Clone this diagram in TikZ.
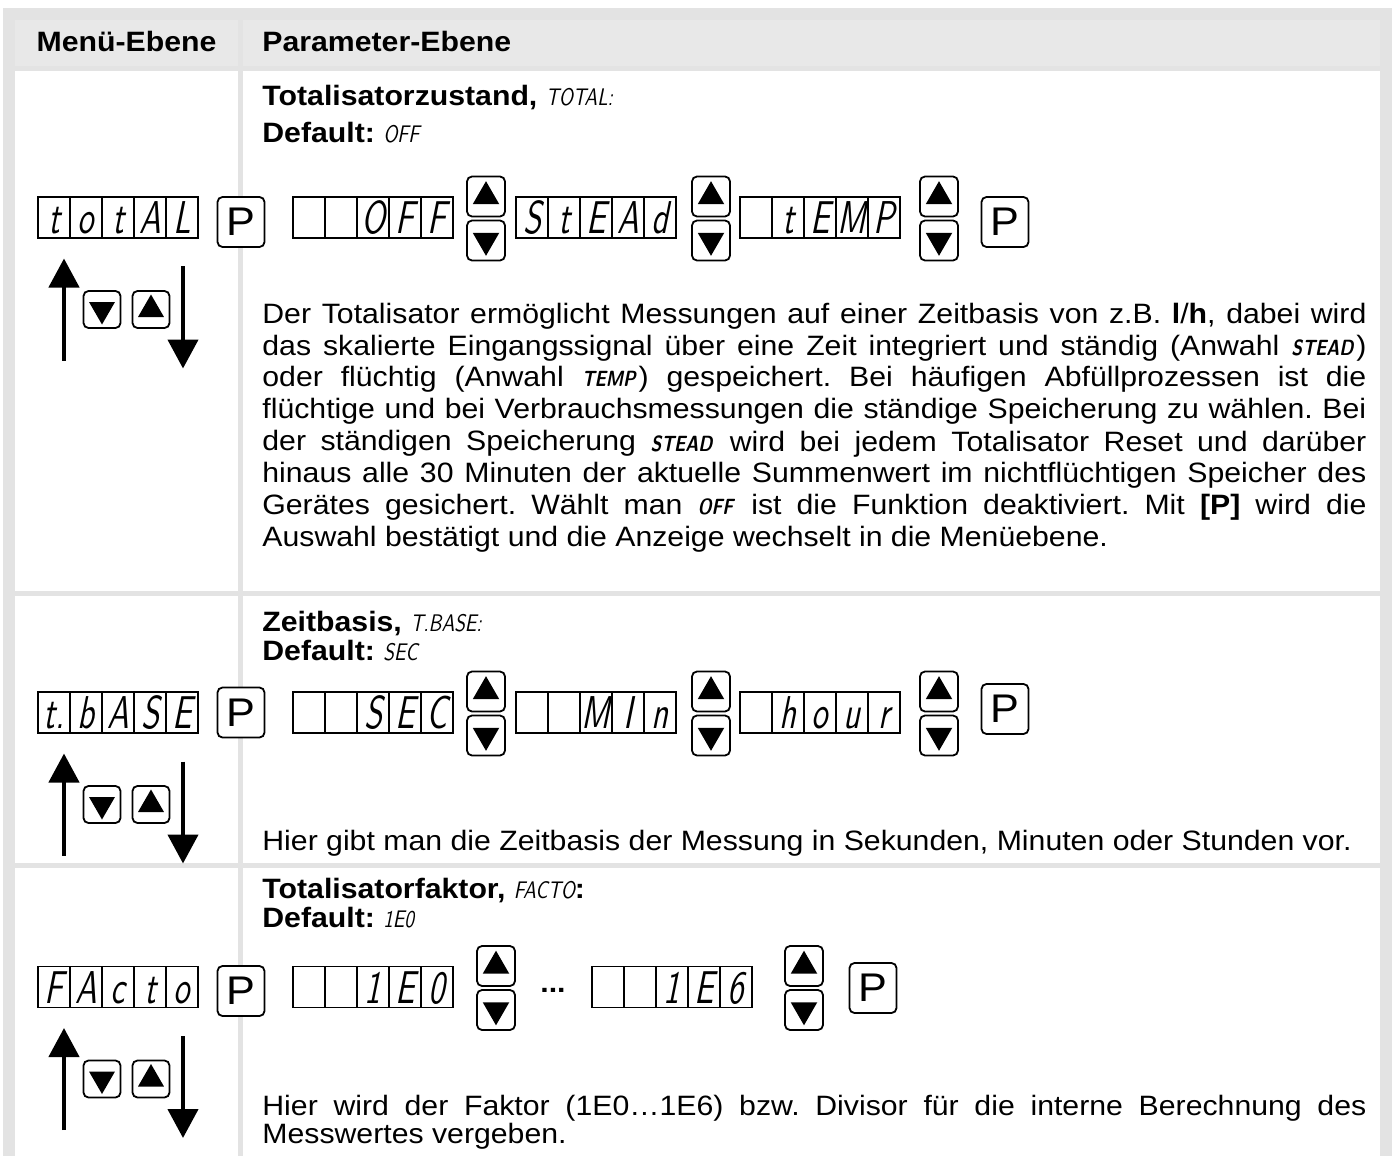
\documentclass[tikz,border=0pt]{standalone}
\usepackage{fontspec}
\setmainfont{Liberation Sans}[FakeStretch=1.08]
\newfontfamily\segfont{lmsans10-regular.otf}[FakeStretch=0.7,FakeSlant=0.2]
\newfontfamily\segtext{lmsans10-regular.otf}[FakeStretch=0.8,FakeSlant=0.2,BoldFont=lmsans10-bold.otf]
\usetikzlibrary{arrows.meta,shapes.geometric}
\frenchspacing

\definecolor{rahmen}{HTML}{E3E3E3}
\definecolor{kopf}{HTML}{E8E8E8}

\newcommand{\seg}[1]{{\segtext\mdseries\fontsize{12}{12}\selectfont #1\/}}
\newcommand{\segb}[1]{{\segtext\bfseries\fontsize{11}{11}\selectfont #1\/}\kern1.5pt\relax}
\newcommand{\satz}{\hyphenpenalty=10000 \tolerance=9999\relax}

\tikzset{
  segcell/.style={draw, line width=0.6pt, minimum width=16pt, minimum height=20.5pt,
    inner sep=0pt, text height=16pt, text depth=0pt,
    font=\segfont\fontsize{23}{23}\selectfont},
  taste/.style={draw, line width=0.9pt, rounded corners=2.5pt, fill=white, inner sep=0pt},
  ptaste/.style={taste, minimum width=23.5pt, minimum height=25pt,
    font=\fontsize{20}{20}\selectfont},
  pfeiltaste/.style={taste, minimum width=19pt, minimum height=20pt},
  kleintaste/.style={taste, minimum width=18.5pt, minimum height=18.5pt},
  dreieck/.style={regular polygon, regular polygon sides=3, fill=black,
    inner sep=0pt, minimum size=15.3pt},
  kleindreieck/.style={dreieck, minimum size=15pt},
  pfeil/.style={line width=2.2pt, -{Triangle[width=15pt,length=14.5pt]}},
  kopftext/.style={font=\bfseries\fontsize{14}{14}\selectfont, inner sep=0pt},
  titel/.style={anchor=base west, inner sep=0pt, font=\bfseries\fontsize{14}{14}\selectfont},
  fliess/.style={anchor=base west, inner sep=0pt, text width=552pt, align=justify,
    font=\fontsize{14}{16}\selectfont\satz}
}

% Anzeige mit fuenf Stellen
\newcommand{\anzeige}[4]{%
  \foreach \z [count=\i from 0] in {#4}
    \node[segcell] (#1-\i) at ({#2+16+32*\i},#3) {\z};
}

% Tasten hoch/runter
\newcommand{\auswahl}[3]{%
  \node[pfeiltaste] (#1-auf) at ({#2+19},{#3-21}) {};
  \node[pfeiltaste] (#1-ab) at ({#2+19},{#3+23}) {};
  \node[dreieck] (#1-auf-d) at (#1-auf) {};
  \node[dreieck, shape border rotate=180] (#1-ab-d) at (#1-ab) {};
}

% Menue-Ebene: Pfeile und Tasten
\newcommand{\menue}[2]{%
  \coordinate (#1-hoch-a) at (64,{#2+143});
  \coordinate (#1-hoch-b) at (64,{#2+41});
  \coordinate (#1-runter-a) at (183,{#2+49});
  \coordinate (#1-runter-b) at (183,{#2+151});
  \draw[pfeil] (#1-hoch-a) -- (#1-hoch-b);
  \draw[pfeil] (#1-runter-a) -- (#1-runter-b);
  \node[kleintaste] (#1-ab) at (102,{#2+92}) {};
  \node[kleintaste] (#1-auf) at (151,{#2+92}) {};
  \node[kleindreieck, shape border rotate=180] (#1-ab-d) at (#1-ab) {};
  \node[kleindreieck] (#1-auf-d) at (#1-auf) {};
}

\begin{document}
\begin{tikzpicture}[x=0.5pt,y=-0.5pt]
\useasboundingbox (0,0) rectangle (1394,1156);

% Rahmen und Zellen
\fill[rahmen] (3,8) rectangle (1392,1156);
\fill[kopf] (15,20) rectangle (238,66);
\fill[kopf] (243,20) rectangle (1380,66);
\foreach \oben/\unten in {71/591,596/863,868/1156} {
  \fill[white] (15,\oben) rectangle (238,\unten);
  \fill[white] (243,\oben) rectangle (1380,\unten);
}

% Kopfzeile
\node[kopftext, anchor=base] (kopf-menue) at (126.5,52) {Menü-Ebene};
\node[kopftext, anchor=base west] (kopf-param) at (262,52) {Parameter-Ebene};

% Totalisatorzustand
\node[titel] (tot-titel) at (262,106) {Totalisatorzustand, \seg{TOTAL:}};
\node[titel] (tot-default) at (262,143) {Default: \seg{OFF}};
\anzeige{tot-menu}{38}{217.5}{t,o,t,A,L}
\node[ptaste] (tot-p1) at (241,222) {P};
\menue{tot}{217.5}
\anzeige{tot-off}{293}{217.5}{ , ,O,F,F}
\auswahl{tot-off}{467}{217.5}
\anzeige{tot-stead}{516}{217.5}{S,t,E,A,d}
\auswahl{tot-stead}{692}{217.5}
\anzeige{tot-temp}{740}{217.5}{ ,t,E,M,P}
\auswahl{tot-temp}{920}{217.5}
\node[ptaste] (tot-p2) at (1005,222) {P};
\node[fliess] (tot-text) at (262,323) {Der Totalisator ermöglicht Messungen auf einer
  Zeitbasis von z.B. \textbf{l}/\textbf{h}, dabei wird\linebreak
  das skalierte Eingangssignal über eine Zeit integriert und ständig (Anwahl
  \segb{STEAD})\linebreak
  oder flüchtig (Anwahl \segb{TEMP}) gespeichert. Bei häufigen Abfüllprozessen ist
  die\linebreak
  flüchtige und bei Verbrauchsmessungen die ständige Speicherung zu wählen.
  Bei\linebreak
  der ständigen Speicherung \segb{STEAD} wird bei jedem Totalisator Reset und
  darüber\linebreak
  hinaus alle 30 Minuten der aktuelle Summenwert im nichtflüchtigen Speicher
  des\linebreak
  Gerätes gesichert. Wählt man \segb{OFF} ist die Funktion deaktiviert. Mit
  \textbf{[P]} wird die\linebreak
  Auswahl bestätigt und die Anzeige wechselt in die Menüebene.};

% Zeitbasis
\node[titel] (zeit-titel) at (262,631) {Zeitbasis, \seg{T.BASE:}};
\node[titel] (zeit-default) at (262,660) {Default: \seg{SEC}};
\anzeige{zeit-menu}{38}{712.5}{t.,b,A,S,E}
\node[ptaste] (zeit-p1) at (241,712.5) {P};
\menue{zeit}{712.5}
\anzeige{zeit-sec}{293}{712.5}{ , ,S,E,C}
\auswahl{zeit-sec}{467}{712.5}
\anzeige{zeit-min}{516}{712.5}{ , ,M,I,n}
\auswahl{zeit-min}{692}{712.5}
\anzeige{zeit-hour}{740}{712.5}{ ,h,o,u,r}
\auswahl{zeit-hour}{920}{712.5}
\node[ptaste] (zeit-p2) at (1005,709) {P};
\node[anchor=base west, inner sep=0pt, font=\fontsize{14}{16}\selectfont]
  (zeit-text) at (262,850)
  {Hier gibt man die Zeitbasis der Messung in Sekunden, Minuten oder Stunden vor.};

% Totalisatorfaktor
\node[titel] (fak-titel) at (262,898) {Totalisatorfaktor, \seg{FACTO}:};
\node[titel] (fak-default) at (262,927) {Default: \seg{1E0}};
\anzeige{fak-menu}{38}{987}{F,A,c,t,o}
\node[ptaste] (fak-p1) at (241,991) {P};
\menue{fak}{987}
\anzeige{fak-1e0}{293}{987}{ , ,1,E,0}
\auswahl{fak-1e0}{477}{987}
\node[anchor=base, inner sep=0pt, font=\bfseries\fontsize{14}{14}\selectfont]
  (fak-punkte) at (553,992) {...};
\anzeige{fak-1e6}{592}{987}{ , ,1,E,6}
\auswahl{fak-1e6}{785}{987}
\node[ptaste] (fak-p2) at (873,988) {P};
\node[fliess, font=\fontsize{14}{14}\selectfont\satz]
  (fak-text) at (262,1115) {Hier wird der Faktor (1E0…1E6) bzw. Divisor für die
  interne Berechnung des\linebreak Messwertes vergeben.};

\end{tikzpicture}
\end{document}
